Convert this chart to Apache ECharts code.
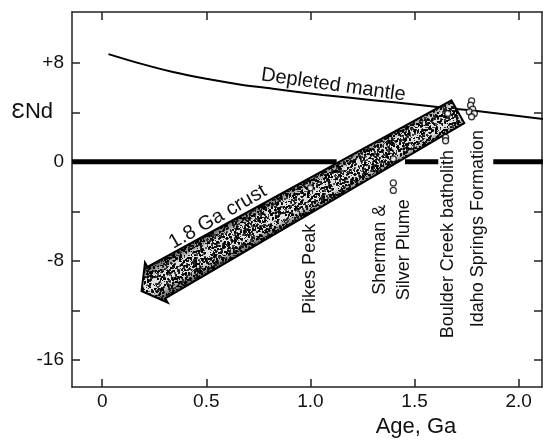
<!DOCTYPE html>
<html><head><meta charset="utf-8">
<script src="https://cdn.jsdelivr.net/npm/echarts@6/dist/echarts.min.js"></script>
<style>html,body{margin:0;padding:0;background:#fff}#c{width:543px;height:443px}</style>
</head><body><div id="c"></div>
<script>
// ---------- data ----------
const xTicks = [0, 0.5, 1.0, 1.5, 2.0];
const xTickLabels = ['0', '0.5', '1.0', '1.5', '2.0'];
const yTicks = [-16, -12, -8, -4, 0, 4, 8];
const yLabelValues = [-16, -8, 0, 4, 8];
const yLabelTexts = ['-16', '-8', '0', 'ƐNd', '+8'];

const mantleAge = [0.03, 0.18, 0.34, 0.50, 0.66, 0.82, 1.06, 1.30, 1.48, 1.61, 1.80, 2.12];
const mantleEps = [8.7, 7.95, 7.25, 6.7, 6.25, 5.9, 5.4, 4.98, 4.67, 4.42, 4.1, 3.45];

const zeroStart = [-0.145, 1.454, 1.878];
const zeroEnd = [1.126, 1.614, 2.12];

const arrowFrom = [1.708, 4.04];
const arrowTo = [0.189, -10.44];

const idahoAge = [1.774, 1.769, 1.779, 1.763, 1.787, 1.774];
const idahoEps = [4.92, 4.57, 4.25, 4.04, 3.90, 3.64];
const boulderAge = [1.659, 1.649, 1.649];
const boulderEps = [3.90, 1.97, 1.70];
const shermanAge = [1.398, 1.398, 1.398];
const shermanEps = [0.24, -1.71, -2.31];
const pikesAge = [1.0];
const pikesEps = [-2.1];

const noteTexts = ['Depleted mantle', '1.8 Ga crust', 'Pikes Peak', 'Sherman &\nSilver Plume', 'Boulder Creek batholith', 'Idaho Springs Formation'];
const noteAge = [1.11, 0.555, 1.0, 1.393, 1.660, 1.804];
const noteEps = [6.2, -4.46, -8.65, -7.1, -6.65, -5.4];

// ---------- styling ----------
const FONT = "'Liberation Sans', Arial, Helvetica, sans-serif";
const noteRotationDeg = [-8, 30, 90, 90, 90, 90];
const noteFontSize = [20, 20, 18, 18, 18, 18];

// deterministic stipple texture for the arrow
function makeStipple() {
  const c = document.createElement('canvas');
  c.width = 64; c.height = 64;
  const g = c.getContext('2d');
  g.fillStyle = '#fff'; g.fillRect(0, 0, 64, 64);
  let seed = 987654321;
  const rnd = () => { seed = (seed * 1103515245 + 12345) & 0x7fffffff; return seed / 0x7fffffff; };
  for (let i = 0; i < 1500; i++) {
    const x = (rnd() * 64) | 0, y = (rnd() * 64) | 0;
    const s = rnd() < 0.5 ? 2 : 1;
    g.fillStyle = 'rgba(0,0,0,' + (0.6 + rnd() * 0.4).toFixed(2) + ')';
    g.fillRect(x, y, s, s);
  }
  return c;
}
const stipple = makeStipple();

function pts(arrX, arrY) { return arrX.map((v, i) => [v, arrY[i]]); }

const chart = echarts.init(document.getElementById('c'), null, { renderer: 'canvas' });

const axisLineStyle = { color: '#222', width: 1.5 };
const option = {
  animation: false,
  backgroundColor: '#fff',
  grid: { left: 72, right: 1, top: 12, bottom: 50, containLabel: false },
  xAxis: [{
    type: 'value', min: -0.145, max: 2.112, position: 'bottom',
    axisLine: { show: true, onZero: false, lineStyle: axisLineStyle },
    axisTick: { show: true, inside: true, length: 8, customValues: xTicks, lineStyle: axisLineStyle },
    axisLabel: {
      show: true, customValues: xTicks, margin: 5,
      formatter: v => xTickLabels[xTicks.indexOf(Math.round(v * 10) / 10)],
      color: '#111', fontSize: 19, fontFamily: FONT
    },
    splitLine: { show: false },
    name: 'Age, Ga', nameLocation: 'middle', nameGap: 25,
    nameTextStyle: { color: '#111', fontSize: 22, fontFamily: FONT, padding: [0, 0, 0, 218] }
  }, {
    type: 'value', min: -0.145, max: 2.112, position: 'top',
    axisLine: { show: true, onZero: false, lineStyle: axisLineStyle },
    axisTick: { show: true, inside: true, length: 8, customValues: xTicks, lineStyle: axisLineStyle },
    axisLabel: { show: false }, splitLine: { show: false }
  }],
  yAxis: [{
    type: 'value', min: -18.2, max: 12.1, position: 'left',
    axisLine: { show: true, onZero: false, lineStyle: axisLineStyle },
    axisTick: { show: true, inside: true, length: 8, customValues: yTicks, lineStyle: axisLineStyle },
    axisLabel: {
      show: true, customValues: yLabelValues, margin: 8,
      formatter: v => {
        const t = yLabelTexts[yLabelValues.indexOf(Math.round(v))];
        return Math.round(v) === 4 ? '{e|' + t + '}' : t;
      },
      color: '#111', fontSize: 19, fontFamily: FONT,
      rich: { e: { fontSize: 22, color: '#111', fontFamily: FONT, padding: [0, 11, 0, 0] } }
    },
    splitLine: { show: false }
  }, {
    type: 'value', min: -18.2, max: 12.1, position: 'right',
    axisLine: { show: true, onZero: false, lineStyle: axisLineStyle },
    axisTick: { show: true, inside: true, length: 8, customValues: yTicks, lineStyle: axisLineStyle },
    axisLabel: { show: false }, splitLine: { show: false }
  }],
  series: [
    // thick zero reference line (broken)
    {
      type: 'custom', xAxisIndex: 0, yAxisIndex: 0, z: 2,
      data: zeroStart.map((s, i) => [s, zeroEnd[i], 0]),
      encode: { x: [0, 1], y: 2 },
      renderItem: (params, api) => {
        const a = api.coord([api.value(0), api.value(2)]);
        const b = api.coord([api.value(1), api.value(2)]);
        return { type: 'line', shape: { x1: a[0], y1: a[1], x2: b[0], y2: b[1] },
                 style: { stroke: '#000', lineWidth: 5 } };
      }
    },
    // depleted mantle curve
    {
      type: 'line', z: 3, data: pts(mantleAge, mantleEps), smooth: 0.3, showSymbol: false, symbol: 'none',
      lineStyle: { color: '#000', width: 2 }, silent: true
    },
    // 1.8 Ga crust arrow
    {
      type: 'custom', z: 4, clip: false,
      data: [[arrowFrom[0], arrowFrom[1], arrowTo[0], arrowTo[1]]],
      encode: { x: [0, 2], y: [1, 3] },
      renderItem: (params, api) => {
        const S = api.coord([api.value(0), api.value(1)]);
        const T = api.coord([api.value(2), api.value(3)]);
        const dx = T[0] - S[0], dy = T[1] - S[1], L = Math.hypot(dx, dy);
        const d = [dx / L, dy / L], n = [-d[1], d[0]];
        const hwS = 13, hwH = 18, headHalf = 23, headLen = 17;
        const H = [T[0] - d[0] * headLen, T[1] - d[1] * headLen];
        const P = (o, k) => [o[0] + n[0] * k, o[1] + n[1] * k];
        const poly = [P(S, hwS), P(H, hwH), P(H, headHalf), T, P(H, -headHalf), P(H, -hwH), P(S, -hwS)];
        const M = [(S[0] + H[0]) / 2, (S[1] + H[1]) / 2];
        const g1 = P(M, 16), g2 = P(M, -16);
        return {
          type: 'group',
          children: [
            { type: 'polygon', shape: { points: poly }, style: { fill: { image: stipple, repeat: 'repeat' }, stroke: null } },
            { type: 'polygon', shape: { points: poly }, style: {
                fill: { type: 'linear', x: g1[0], y: g1[1], x2: g2[0], y2: g2[1], global: true,
                  colorStops: [
                    { offset: 0, color: 'rgba(0,0,0,0.6)' }, { offset: 0.28, color: 'rgba(0,0,0,0.12)' },
                    { offset: 0.72, color: 'rgba(0,0,0,0.12)' }, { offset: 1, color: 'rgba(0,0,0,0.6)' }] },
                stroke: null } },
            { type: 'polygon', shape: { points: poly }, style: { fill: null, stroke: '#000', lineWidth: 2, lineJoin: 'miter' } }
          ]
        };
      }
    },
    // sample points
    ...[[idahoAge, idahoEps], [boulderAge, boulderEps], [shermanAge, shermanEps], [pikesAge, pikesEps]].map(([ax, ey]) => ({
      type: 'scatter', z: 6, data: pts(ax, ey), symbol: 'circle', symbolSize: 6,
      itemStyle: { color: '#fff', borderColor: '#000', borderWidth: 1.3 }, silent: true
    })),
    // text annotations
    {
      type: 'custom', z: 7, clip: false,
      data: noteAge.map((a, i) => [a, noteEps[i], i]),
      encode: { x: 0, y: 1 },
      renderItem: (params, api) => {
        const i = api.value(2);
        const p = api.coord([api.value(0), api.value(1)]);
        return {
          type: 'text', x: p[0], y: p[1], rotation: noteRotationDeg[i] * Math.PI / 180,
          style: { text: noteTexts[i], fill: '#111', align: 'center', verticalAlign: 'middle',
                   font: noteFontSize[i] + 'px ' + FONT, lineHeight: 24 }
        };
      }
    }
  ]
};
chart.setOption(option);
</script>
</body></html>
